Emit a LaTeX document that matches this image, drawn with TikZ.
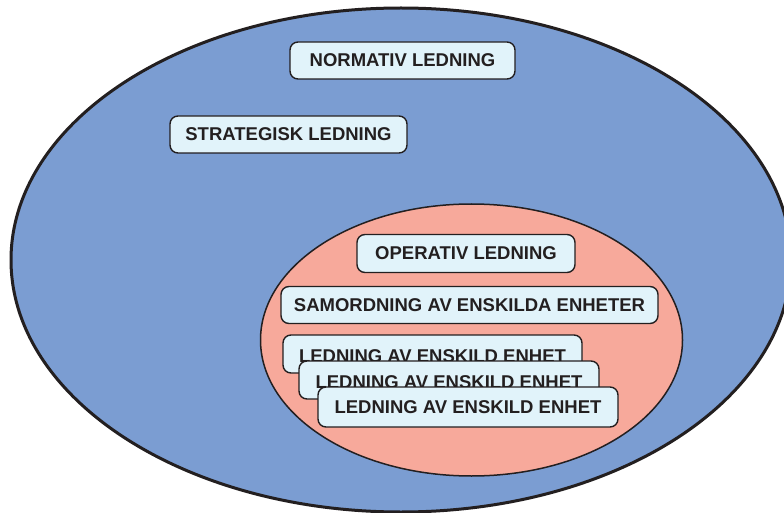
\documentclass[tikz,border=0pt]{standalone}
\usepackage{fontspec}
\setmainfont{Liberation Sans}
\definecolor{outerblue}{HTML}{7B9DD2}
\definecolor{innerpink}{HTML}{F7A99B}
\definecolor{boxfill}{HTML}{E1F3FA}
\definecolor{ink}{HTML}{231F20}
\begin{document}
\begin{tikzpicture}[x=1pt,y=-1pt,
  levelbox/.style={draw=ink, fill=boxfill, line width=1.4pt, rounded corners=8pt,
    inner sep=0pt, text=ink, font=\fontsize{18.5}{20}\selectfont\bfseries,
    align=center},
  lowtext/.style={text height=16pt, text depth=0pt}]
  \clip (0,0) rectangle (784,513);
  \fill[white] (0,0) rectangle (784,513);
  % outer and inner management spheres
  \draw[ink, fill=outerblue, line width=3pt] (401,260) ellipse [x radius=390pt, y radius=252pt];
  \draw[ink, fill=innerpink, line width=1.5pt] (471.5,340) ellipse [x radius=211pt, y radius=136pt];
  % levels
  \node[levelbox, minimum width=225pt, minimum height=37pt] (norm) at (402.5,60.5) {NORMATIV LEDNING};
  \node[levelbox, minimum width=237pt, minimum height=37pt] (strat) at (288.5,134.5) {STRATEGISK LEDNING};
  \node[levelbox, minimum width=218pt, minimum height=38pt] (oper) at (466,253.5) {OPERATIV LEDNING};
  \node[levelbox, minimum width=377pt, minimum height=37pt] (samord) at (469.5,305) {SAMORDNING AV ENSKILDA ENHETER};
  \node[levelbox, lowtext, minimum width=299pt, minimum height=38pt] (unit1) at (432.5,354) {LEDNING AV ENSKILD ENHET};
  \node[levelbox, lowtext, minimum width=300pt, minimum height=38pt] (unit2) at (449,380) {LEDNING AV ENSKILD ENHET};
  \node[levelbox, minimum width=300pt, minimum height=40pt] (unit3) at (468,407) {LEDNING AV ENSKILD ENHET};
\end{tikzpicture}
\end{document}
